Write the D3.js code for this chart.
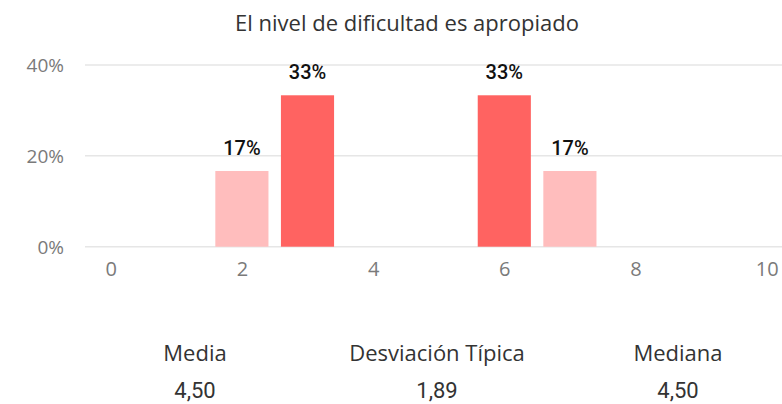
<!DOCTYPE html>
<html><head><meta charset="utf-8">
<script src="https://cdn.jsdelivr.net/npm/d3@7"></script>
<style>body{margin:0;background:#fff}svg{display:block}</style>
</head><body>
<svg id="c" width="782" height="404"></svg>
<script>
const title = "El nivel de dificultad es apropiado";
const categories = [2, 3, 6, 7];
const values = [1/6, 1/3, 1/3, 1/6];
const xTicks = [0, 2, 4, 6, 8, 10];
const yTicks = [0, 0.2, 0.4];
const statLabels = ["Media", "Desviación Típica", "Mediana"];
const statValues = ["4,50", "1,89", "4,50"];

const svg = d3.select("#c");
const x = d3.scaleLinear().domain([0, 10]).range([110.7, 766.7]);
const y = d3.scaleLinear().domain([0, 0.4]).range([246.7, 65]);
const bw = x(0.81) - x(0);
const maxV = d3.max(values);

svg.append("text").attr("x", 407).attr("y", 31).attr("text-anchor", "middle")
  .attr("font-family", "Open Sans").attr("font-size", 22).attr("fill", "#333").text(title);

// gridlines
svg.append("g").selectAll("line").data(yTicks).join("line")
  .attr("x1", 85).attr("x2", 782).attr("y1", d => y(d)).attr("y2", d => y(d))
  .attr("stroke", "#e6e6e6").attr("stroke-width", 1.5);

// y axis labels
const yAxis = d3.axisLeft(y).tickValues(yTicks).tickFormat(d3.format(".0%")).tickSize(0).tickPadding(0);
svg.append("g").attr("transform", "translate(64,0)").call(yAxis)
  .call(g => g.select(".domain").remove())
  .call(g => g.selectAll("text").attr("font-family", "Open Sans").attr("font-size", 19).attr("fill", "#7a7a7a").attr("dy", "0.35em"));

// x axis labels
const xAxis = d3.axisBottom(x).tickValues(xTicks).tickFormat(d3.format("d")).tickSize(0).tickPadding(0);
svg.append("g").attr("transform", "translate(0,276)").call(xAxis)
  .call(g => g.select(".domain").remove())
  .call(g => g.selectAll("text").attr("font-family", "Open Sans").attr("font-size", 20).attr("fill", "#7a7a7a").attr("dy", "0"));

// bars
svg.append("g").selectAll("rect").data(categories).join("rect")
  .attr("x", (d) => x(d) - bw / 2)
  .attr("width", bw)
  .attr("y", (d, i) => y(values[i]))
  .attr("height", (d, i) => y(0) - y(values[i]))
  .attr("fill", (d, i) => values[i] === maxV ? "#FF6361" : "#FFBDBD");

// data labels
svg.append("g").selectAll("text").data(categories).join("text")
  .attr("x", d => x(d))
  .attr("y", (d, i) => y(values[i]) - 16)
  .attr("text-anchor", "middle")
  .attr("font-family", "Roboto").attr("font-weight", 500).attr("font-size", 20).attr("fill", "#111")
  .text((d, i) => Math.round(values[i] * 100) + "%");

// stats
const sx = [195, 437, 678];
svg.append("g").selectAll("text").data(statLabels).join("text")
  .attr("x", (d, i) => sx[i]).attr("y", 361).attr("text-anchor", "middle")
  .attr("font-family", "Open Sans").attr("font-size", 22).attr("fill", "#333").text(d => d);
svg.append("g").selectAll("text").data(statValues).join("text")
  .attr("x", (d, i) => sx[i]).attr("y", 398).attr("text-anchor", "middle")
  .attr("font-family", "Roboto").attr("font-weight", 400).attr("font-size", 22).attr("fill", "#333").text(d => d);
</script>
</body></html>
